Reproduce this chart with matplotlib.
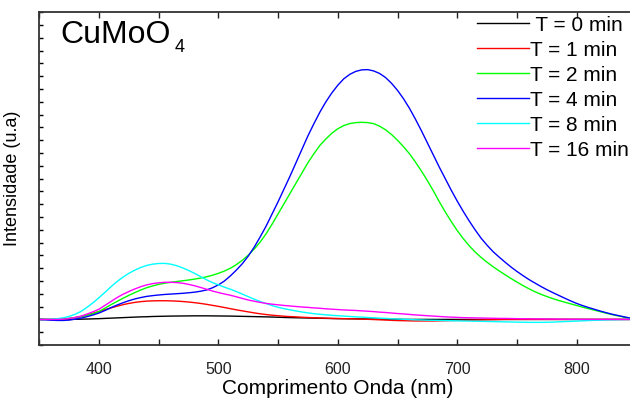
# -*- coding: utf-8 -*-
"""
Espectros de emissao do CuMoO4 para varios tempos.
"""
import matplotlib
matplotlib.use('Agg')
import matplotlib.pyplot as plt
from matplotlib.ticker import MultipleLocator, NullFormatter

plt.rcParams['font.family'] = ['Liberation Sans', 'DejaVu Sans']

# comprimento de onda (nm), passo de 5 nm
wl = list(range(350, 855, 5))

t0 = [0, 0, 0, 0, 0, 0, 0.01, 0.02, 0.03, 0.045,
      0.06, 0.08, 0.10, 0.12, 0.14, 0.16, 0.18, 0.20, 0.21, 0.23,
      0.24, 0.25, 0.26, 0.265, 0.27, 0.275, 0.28, 0.28, 0.28, 0.275,
      0.27, 0.265, 0.26, 0.25, 0.24, 0.23, 0.22, 0.21, 0.20, 0.185,
      0.17, 0.155, 0.14, 0.13, 0.12, 0.11, 0.10, 0.09, 0.08, 0.07,
      0.06, 0.055, 0.05, 0.045, 0.04, 0.035, 0.03, 0.025, 0.02, 0.015,
      0.01, 0.005, 0, 0, 0, 0, 0, 0, 0, 0,
      0, 0, 0, 0, 0, 0, 0, 0, 0, 0,
      0, 0, 0, 0, 0, 0, 0, 0, 0, 0,
      0, 0, 0, 0, 0, 0, 0, 0, 0, 0,
      0]

t1 = [0, 0, 0, 0, 0.02, 0.07, 0.14, 0.23, 0.35, 0.48,
      0.62, 0.76, 0.90, 1.03, 1.15, 1.25, 1.33, 1.39, 1.43, 1.45,
      1.46, 1.46, 1.45, 1.43, 1.40, 1.36, 1.31, 1.25, 1.18, 1.10,
      1.02, 0.93, 0.84, 0.75, 0.67, 0.59, 0.51, 0.44, 0.38, 0.33,
      0.29, 0.25, 0.22, 0.20, 0.17, 0.15, 0.13, 0.11, 0.10, 0.08,
      0.07, 0.06, 0.05, 0.04, 0.02, 0.01, -0.01, -0.03, -0.05, -0.07,
      -0.09, -0.10, -0.11, -0.12, -0.12, -0.12, -0.12, -0.11, -0.10, -0.09,
      -0.08, -0.07, -0.06, -0.05, -0.04, -0.03, -0.02, -0.01, 0, 0,
      0, 0, 0, 0, 0, 0, 0, 0, 0, 0,
      0, 0, 0, 0, 0, 0, 0, 0, 0, 0,
      0]

t2 = [0, 0, 0, 0.02, 0.04, 0.08, 0.15, 0.22, 0.32, 0.45,
      0.62, 0.88, 1.15, 1.40, 1.65, 1.88, 2.10, 2.30, 2.48, 2.62,
      2.74, 2.83, 2.90, 2.96, 3.02, 3.08, 3.15, 3.23, 3.33, 3.45,
      3.60, 3.78, 4.00, 4.28, 4.62, 5.02, 5.50, 6.05, 6.70, 7.45,
      8.25, 9.05, 9.85, 10.65, 11.45, 12.25, 12.95, 13.6, 14.1, 14.55,
      14.9, 15.15, 15.3, 15.38, 15.4, 15.38, 15.3, 15.1, 14.82, 14.45,
      14.0, 13.5, 12.95, 12.3, 11.6, 10.85, 10.05, 9.2, 8.4, 7.65,
      6.95, 6.32, 5.76, 5.27, 4.85, 4.47, 4.12, 3.80, 3.50, 3.20,
      2.92, 2.65, 2.40, 2.17, 1.97, 1.79, 1.63, 1.48, 1.35, 1.22,
      1.09, 0.96, 0.84, 0.72, 0.60, 0.48, 0.37, 0.27, 0.17, 0.09,
      0.03]

t4 = [0, -0.03, -0.06, -0.08, -0.08, -0.05, 0.02, 0.10, 0.22, 0.35,
      0.50, 0.70, 0.92, 1.12, 1.30, 1.46, 1.60, 1.71, 1.80, 1.86,
      1.91, 1.95, 1.98, 2.01, 2.04, 2.08, 2.13, 2.20, 2.30, 2.47,
      2.70, 3.00, 3.40, 3.85, 4.35, 4.95, 5.65, 6.45, 7.30, 8.25,
      9.20, 10.2, 11.2, 12.25, 13.3, 14.35, 15.3, 16.2, 17.0, 17.7,
      18.3, 18.8, 19.15, 19.38, 19.5, 19.52, 19.42, 19.22, 18.9, 18.45,
      17.9, 17.25, 16.5, 15.65, 14.75, 13.8, 12.85, 11.9, 11.0, 10.1,
      9.25, 8.45, 7.70, 7.00, 6.35, 5.80, 5.30, 4.88, 4.48, 4.10,
      3.75, 3.43, 3.12, 2.85, 2.58, 2.33, 2.10, 1.88, 1.66, 1.45,
      1.25, 1.08, 0.93, 0.79, 0.65, 0.52, 0.40, 0.30, 0.20, 0.10,
      0.03]

t8 = [0, 0, 0.02, 0.06, 0.12, 0.24, 0.40, 0.63, 0.95, 1.30,
      1.70, 2.12, 2.55, 2.95, 3.30, 3.60, 3.85, 4.06, 4.22, 4.32,
      4.37, 4.38, 4.32, 4.20, 4.03, 3.83, 3.60, 3.35, 3.10, 2.88,
      2.70, 2.52, 2.36, 2.18, 1.98, 1.78, 1.58, 1.40, 1.24, 1.08,
      0.95, 0.84, 0.75, 0.66, 0.58, 0.51, 0.45, 0.40, 0.36, 0.32,
      0.29, 0.26, 0.23, 0.20, 0.18, 0.15, 0.13, 0.10, 0.08, 0.05,
      0.03, 0.01, -0.01, -0.03, -0.04, -0.06, -0.07, -0.08, -0.09, -0.10,
      -0.11, -0.12, -0.13, -0.14, -0.15, -0.16, -0.17, -0.18, -0.19, -0.20,
      -0.21, -0.22, -0.23, -0.23, -0.23, -0.22, -0.21, -0.19, -0.17, -0.15,
      -0.13, -0.11, -0.09, -0.07, -0.06, -0.04, -0.03, -0.02, -0.01, 0,
      0]

t16 = [0, 0, 0, 0, 0.02, 0.07, 0.15, 0.26, 0.42, 0.60,
       0.80, 1.10, 1.40, 1.70, 1.96, 2.18, 2.38, 2.56, 2.70, 2.80,
       2.86, 2.90, 2.90, 2.88, 2.83, 2.74, 2.63, 2.50, 2.36, 2.22,
       2.10, 1.99, 1.89, 1.77, 1.64, 1.52, 1.42, 1.33, 1.25, 1.19,
       1.14, 1.09, 1.05, 1.01, 0.97, 0.94, 0.90, 0.87, 0.83, 0.80,
       0.77, 0.74, 0.72, 0.70, 0.67, 0.64, 0.61, 0.57, 0.54, 0.50,
       0.46, 0.43, 0.39, 0.35, 0.32, 0.29, 0.26, 0.23, 0.20, 0.18,
       0.16, 0.14, 0.13, 0.12, 0.11, 0.10, 0.09, 0.08, 0.08, 0.07,
       0.06, 0.05, 0.05, 0.04, 0.04, 0.03, 0.03, 0.02, 0.02, 0.01,
       0.01, 0, 0, 0, 0, 0, 0, 0, 0, 0,
       0]

labels = [' T = 0 min', 'T = 1 min', 'T = 2 min', 'T = 4 min', 'T = 8 min', 'T = 16 min']
cores = ['#000000', '#ff0000', '#00ff00', '#0000ff', '#00ffff', '#ff00ff']
series = [t0, t1, t2, t4, t8, t16]

fig = plt.figure(figsize=(6.3, 3.99), dpi=100)
ax = fig.add_axes([0.0624, 0.1353, 0.9476, 0.8339])

for y, c, lab in zip(series, cores, labels):
    ax.plot(wl, y, color=c, lw=1.0, label=lab)

ax.set_xlim(350, 850)
ax.set_ylim(-2, 24)
ax.xaxis.set_major_locator(MultipleLocator(100))
ax.xaxis.set_minor_locator(MultipleLocator(50))
ax.yaxis.set_major_locator(MultipleLocator(1))
ax.yaxis.set_major_formatter(NullFormatter())
ax.tick_params(axis='x', which='both', direction='in', top=True, length=4,
               width=1, pad=12, labelsize=11.5, colors='#222222')
ax.tick_params(axis='y', which='both', direction='in', length=3, width=1)
for s in ax.spines.values():
    s.set_linewidth(1.3)
    s.set_color('#333333')

ax.set_xlabel('Comprimento Onda (nm)', fontsize=15, labelpad=2)
ax.set_ylabel('Intensidade (u.a)', fontsize=13, labelpad=10)

ax.text(0.0347, 0.9077, 'CuMoO', fontsize=23, va='baseline', transform=ax.transAxes)
ax.text(0.227, 0.8807, '4', fontsize=13, va='baseline', transform=ax.transAxes)

leg = ax.legend(loc='upper right', bbox_to_anchor=(0.998, 0.961),
                bbox_transform=fig.transFigure, frameon=False, fontsize=15,
                handlelength=2.5, handletextpad=0.05, labelspacing=0.29,
                borderpad=0, borderaxespad=0)

fig.savefig('out.png', dpi=100)
